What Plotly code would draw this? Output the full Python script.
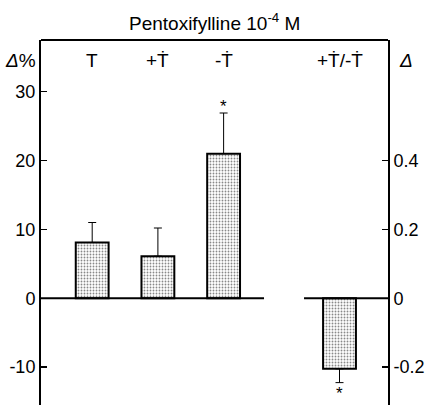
import plotly.graph_objects as go

# ---- data ----
categories_left = ["T", "+Ṫ", "-Ṫ"]
values_left = [8.1, 6.1, 21.0]        # Δ% (left axis)
errors_left = [2.9, 4.1, 5.9]
marks_left = ["", "", "*"]

categories_right = ["+Ṫ/-Ṫ"]
values_right = [-0.205]               # Δ (right axis)
errors_right = [0.04]
marks_right = ["*"]

left_tickvals = [-10, 0, 10, 20, 30]
left_ticktext = ["-10", "0", "10", "20", "30"]
right_tickvals = [-0.2, 0, 0.2, 0.4]
right_ticktext = ["-0.2", "0", "0.2", "0.4"]

title_text = "Pentoxifylline 10<sup>-4</sup> M"
left_unit = "<i>Δ</i>%"
right_unit = "<i>Δ</i>"

FONT = "Liberation Sans, Arial, sans-serif"
TICKFONT = dict(family=FONT, size=18, color="black")

pattern = dict(shape=".", fgcolor="#111", bgcolor="white", size=3, solidity=0.3)

fig = go.Figure()

fig.add_trace(go.Bar(
    x=categories_left, y=values_left, width=0.5,
    xaxis="x", yaxis="y",
    marker=dict(color="white", pattern=pattern, line=dict(color="black", width=2)),
    error_y=dict(type="data", symmetric=False, array=errors_left,
                 arrayminus=[0] * len(errors_left), color="black", thickness=1, width=4),
    showlegend=False, hoverinfo="skip",
))
fig.add_trace(go.Bar(
    x=categories_right, y=values_right, width=0.5,
    xaxis="x2", yaxis="y2",
    marker=dict(color="white", pattern=pattern, line=dict(color="black", width=2)),
    error_y=dict(type="data", symmetric=False, array=[0] * len(errors_right),
                 arrayminus=errors_right, color="black", thickness=1, width=4),
    showlegend=False, hoverinfo="skip",
))

yr_left = [-15.5, 37.5]
scale = 50.0
yr_right = [yr_left[0] / scale, yr_left[1] / scale]

axis_common = dict(showgrid=False, zeroline=False, showline=True, linecolor="black",
                   linewidth=2, ticks="inside", ticklen=6, tickwidth=1.5, tickcolor="black",
                   tickfont=TICKFONT, fixedrange=True)

fig.update_layout(
    width=426, height=405,
    margin=dict(l=41, r=38, t=40, b=0),
    paper_bgcolor="white", plot_bgcolor="white",
    bargap=0,
    xaxis=dict(domain=[0, 0.6427], type="category", categoryarray=categories_left,
               range=[-0.779, 2.615], showticklabels=False, showgrid=False,
               zeroline=False, showline=False, ticks="", anchor="y", fixedrange=True),
    xaxis2=dict(domain=[0.758, 1], type="category", categoryarray=categories_right,
                range=[-0.54, 0.738], showticklabels=False, showgrid=False,
                zeroline=False, showline=False, ticks="", anchor="y2", fixedrange=True),
    yaxis=dict(anchor="x", side="left", range=yr_left, tickvals=left_tickvals,
               ticktext=left_ticktext, **axis_common),
    yaxis2=dict(anchor="x2", side="right", range=yr_right, tickvals=right_tickvals,
                ticktext=right_ticktext, **axis_common),
)

# baselines (split, as in the reference) and top frame
fig.add_shape(type="line", xref="x domain", yref="y", x0=0, x1=1, y0=0, y1=0,
              line=dict(color="black", width=2))
fig.add_shape(type="line", xref="x2 domain", yref="y2", x0=0, x1=1, y0=0, y1=0,
              line=dict(color="black", width=2))
fig.add_shape(type="line", xref="paper", yref="paper", x0=0, x1=1, y0=1, y1=1,
              line=dict(color="black", width=2))

# significance stars, placed at the error-bar ends
star_font = dict(family=FONT, size=17, color="black")
for c, v, e, m in zip(categories_left, values_left, errors_left, marks_left):
    if m:
        fig.add_annotation(x=c, xref="x", y=v + e, yref="y", text=m, showarrow=False,
                           font=star_font, xanchor="center", yanchor="bottom", yshift=-5)
for c, v, e, m in zip(categories_right, values_right, errors_right, marks_right):
    if m:
        fig.add_annotation(x=c, xref="x2", y=v - e, yref="y2", text=m, showarrow=False,
                           font=star_font, xanchor="center", yanchor="top", yshift=1)

label_font = dict(family=FONT, size=19, color="black")
label_y = 1 - 20 / 365
for c in categories_left:
    fig.add_annotation(x=c, xref="x", y=label_y, yref="paper", text=c, showarrow=False,
                       font=label_font, xanchor="center", yanchor="middle")
for c in categories_right:
    fig.add_annotation(x=c, xref="x2", y=label_y, yref="paper", text=c, showarrow=False,
                       font=label_font, xanchor="center", yanchor="middle")

fig.add_annotation(x=0, xref="paper", y=label_y, yref="paper", text=left_unit,
                   showarrow=False, font=label_font, xanchor="right", yanchor="middle",
                   xshift=-3)
fig.add_annotation(x=1, xref="paper", y=label_y, yref="paper", text=right_unit,
                   showarrow=False, font=label_font, xanchor="left", yanchor="middle",
                   xshift=9)
fig.add_annotation(x=0.5, xref="paper", y=1, yref="paper", text=title_text,
                   showarrow=False, font=dict(family=FONT, size=19, color="black"),
                   xanchor="center", yanchor="middle", yshift=18)

fig.write_html("out.html", config={"displayModeBar": False, "staticPlot": True},
               post_script="document.body.style.margin='0';document.body.style.overflow='hidden';")
